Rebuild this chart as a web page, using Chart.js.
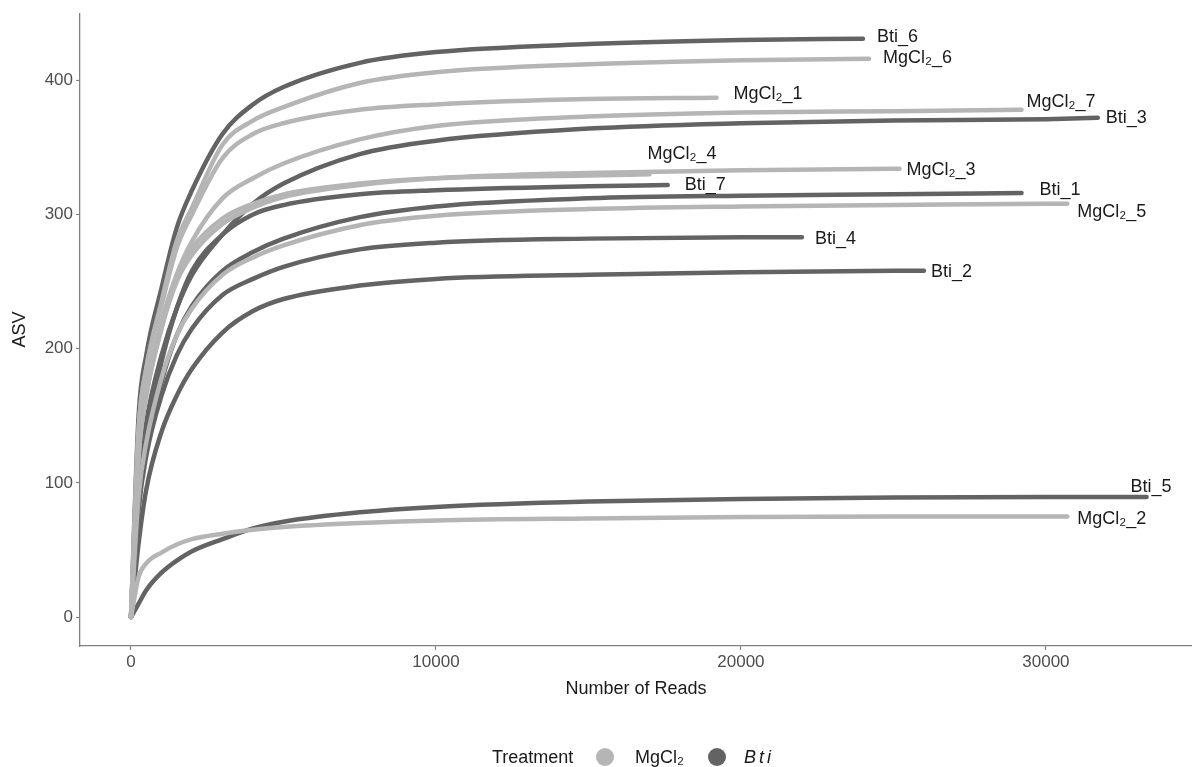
<!DOCTYPE html>
<html>
<head>
<meta charset="utf-8">
<script src="https://cdn.jsdelivr.net/npm/chart.js@4.4.1/dist/chart.umd.min.js"></script>
<style>
  body { margin: 0; background: #fff; font-family: "Liberation Sans", Arial, sans-serif; }
  #wrap { position: relative; width: 1192px; height: 767px; }
  #legend { position: absolute; top: 746px; left: 0; width: 1192px; height: 22px; font-size: 18px; color: #1a1a1a; }
  #legend span { position: absolute; top: 0; line-height: 22px; }
  #legend .dot { width: 18px; height: 18px; border-radius: 50%; top: 2px; }
</style>
</head>
<body>
<div id="wrap">
  <canvas id="rarefactionChart" width="1192" height="767"></canvas>
  <div id="legend">
    <span style="left:492px">Treatment</span>
    <span class="dot" style="left:596px;background:#b5b5b5"></span>
    <span style="left:635px">MgCl₂</span>
    <span class="dot" style="left:708px;background:#636363"></span>
    <span style="left:744px;font-style:italic;letter-spacing:3px">Bti</span>
  </div>
</div>
<script>
const readSteps = [0, 250, 500, 1000, 1500, 2000, 3000, 4000, 5000, 7500, 10000, 15000, 20000, 25000, 30000];

const sampleNames = ['MgCl₂_1', 'MgCl₂_2', 'MgCl₂_3', 'MgCl₂_4', 'MgCl₂_5', 'MgCl₂_6', 'MgCl₂_7',
                     'Bti_1', 'Bti_2', 'Bti_3', 'Bti_4', 'Bti_5', 'Bti_6', 'Bti_7'];
const sampleTreatment = ['MgCl2', 'MgCl2', 'MgCl2', 'MgCl2', 'MgCl2', 'MgCl2', 'MgCl2',
                         'Bti', 'Bti', 'Bti', 'Bti', 'Bti', 'Bti', 'Bti'];
// total reads per sample (end of each curve)
const sampleDepth = [19200, 30700, 25200, 17000, 30700, 24200, 29200,
                     29200, 26000, 31700, 22000, 33300, 24000, 17600];

// ASV counts at each read step below the depth, last value = ASVs at full depth
const asvMgCl2_1 = [0, 140, 185, 232, 275, 300, 342, 360, 368, 378, 382, 386, 387];
const asvMgCl2_2 = [0, 30, 40, 48, 54, 58, 62, 65, 67, 70, 72, 73.5, 74.5, 75, 75, 75];
const asvMgCl2_3 = [0, 120, 165, 215, 250, 270, 293, 305, 313, 322, 327, 331, 333, 334, 334];
const asvMgCl2_4 = [0, 125, 170, 220, 255, 275, 297, 308, 315, 323, 327, 329, 330];
const asvMgCl2_5 = [0, 90, 130, 178, 210, 230, 255, 268, 277, 292, 299, 304, 306, 307, 308, 308];
const asvMgCl2_6 = [0, 140, 185, 235, 280, 305, 352, 370, 380, 398, 406, 412, 415, 416];
const asvMgCl2_7 = [0, 120, 165, 215, 255, 280, 312, 327, 338, 356, 366, 373, 376, 377, 378];
const asvBti_1 = [0, 85, 125, 175, 210, 232, 258, 272, 282, 298, 306, 312, 314, 315, 316];
const asvBti_2 = [0, 55, 95, 138, 165, 185, 212, 228, 237, 247, 252, 255, 257, 258, 258];
const asvBti_3 = [0, 100, 145, 195, 230, 255, 285, 308, 323, 345, 355, 364, 368, 370, 371, 372];
const asvBti_4 = [0, 80, 120, 165, 195, 215, 240, 252, 261, 274, 279, 282, 283, 283];
const asvBti_5 = [0, 10, 20, 33, 42, 49, 58, 66, 71, 78, 82, 86, 88, 89, 89.5, 89.5];
const asvBti_6 = [0, 150, 195, 245, 290, 318, 360, 382, 395, 413, 421, 427, 430, 431];
const asvBti_7 = [0, 90, 135, 190, 230, 258, 285, 300, 307, 315, 318, 321, 322];

const sampleAsv = [asvMgCl2_1, asvMgCl2_2, asvMgCl2_3, asvMgCl2_4, asvMgCl2_5, asvMgCl2_6, asvMgCl2_7,
                   asvBti_1, asvBti_2, asvBti_3, asvBti_4, asvBti_5, asvBti_6, asvBti_7];

const xTicks = [0, 10000, 20000, 30000];
const yTicks = [0, 100, 200, 300, 400];

const colors = { MgCl2: '#b5b5b5', Bti: '#636363' };

// label placement (pixels from the curve end), like ggrepel did it
const labelOffset = {
    'MgCl₂_1': [17, -4], 'MgCl₂_2': [10, 3], 'MgCl₂_3': [7, 1], 'MgCl₂_4': [-2, -20],
    'MgCl₂_5': [10, 8], 'MgCl₂_6': [14, -1], 'MgCl₂_7': [5, -8],
    'Bti_1': [18, -3], 'Bti_2': [7, 1], 'Bti_3': [8, 0], 'Bti_4': [13, 2],
    'Bti_5': [-16, -10], 'Bti_6': [14, -2], 'Bti_7': [17, 0]
};

function curvePoints(i) {
    const asv = sampleAsv[i];
    const pts = [];
    let k = 0;
    while (k < readSteps.length && readSteps[k] < sampleDepth[i] && k < asv.length - 1) {
        pts.push({ x: readSteps[k], y: asv[k] });
        k++;
    }
    pts.push({ x: sampleDepth[i], y: asv[asv.length - 1] });
    return pts;
}

const datasets = sampleNames.map((name, i) => ({
    label: name,
    data: curvePoints(i),
    borderColor: colors[sampleTreatment[i]],
    borderWidth: 4.5,
    borderCapStyle: 'round',
    borderJoinStyle: 'round',
    pointRadius: 0,
    fill: false,
    cubicInterpolationMode: 'monotone'
}));

const endLabels = {
    id: 'endLabels',
    afterDatasetsDraw(chart) {
        const ctx = chart.ctx;
        ctx.save();
        ctx.font = '18px "Liberation Sans", Arial, sans-serif';
        ctx.fillStyle = '#1a1a1a';
        ctx.textBaseline = 'middle';
        ctx.textAlign = 'left';
        chart.data.datasets.forEach((ds, di) => {
            const meta = chart.getDatasetMeta(di);
            const last = meta.data[meta.data.length - 1];
            const off = labelOffset[ds.label] || [8, 0];
            ctx.fillText(ds.label, last.x + off[0], last.y + off[1]);
        });
        ctx.restore();
    }
};

Chart.defaults.font.family = '"Liberation Sans", Arial, sans-serif';

const ctx = document.getElementById('rarefactionChart').getContext('2d');
new Chart(ctx, {
    type: 'line',
    data: { datasets: datasets },
    options: {
        responsive: false,
        animation: false,
        layout: { padding: { top: 8, right: 0, bottom: 67, left: 0 } },
        plugins: {
            legend: { display: false },
            tooltip: { enabled: false }
        },
        scales: {
            x: {
                type: 'linear',
                min: -1672,
                max: 34790,
                afterBuildTicks: scale => { scale.ticks = xTicks.map(v => ({ value: v })); },
                afterFit: scale => { scale.height = 54; },
                grid: { drawOnChartArea: false, drawTicks: true, tickLength: 4, tickColor: '#808080', tickWidth: 1.2 },
                border: { display: true, color: '#808080', width: 1.3 },
                ticks: { color: '#4d4d4d', font: { size: 17 }, padding: 2, maxRotation: 0, callback: v => String(v) },
                title: { display: true, text: 'Number of Reads', color: '#1a1a1a', font: { size: 18 }, padding: { top: 0, bottom: 0 } }
            },
            y: {
                type: 'linear',
                min: -21.6,
                max: 450,
                afterBuildTicks: scale => { scale.ticks = yTicks.map(v => ({ value: v })); },
                afterFit: scale => { scale.width = 80; },
                grid: { drawOnChartArea: false, drawTicks: true, tickLength: 4, tickColor: '#808080', tickWidth: 1.2 },
                border: { display: true, color: '#808080', width: 1.3 },
                ticks: { color: '#4d4d4d', font: { size: 17 }, padding: 3, callback: v => String(v) },
                title: { display: true, text: 'ASV', color: '#1a1a1a', font: { size: 18 }, padding: { top: 9, bottom: 0 } }
            }
        }
    },
    plugins: [endLabels]
});
</script>
</body>
</html>
